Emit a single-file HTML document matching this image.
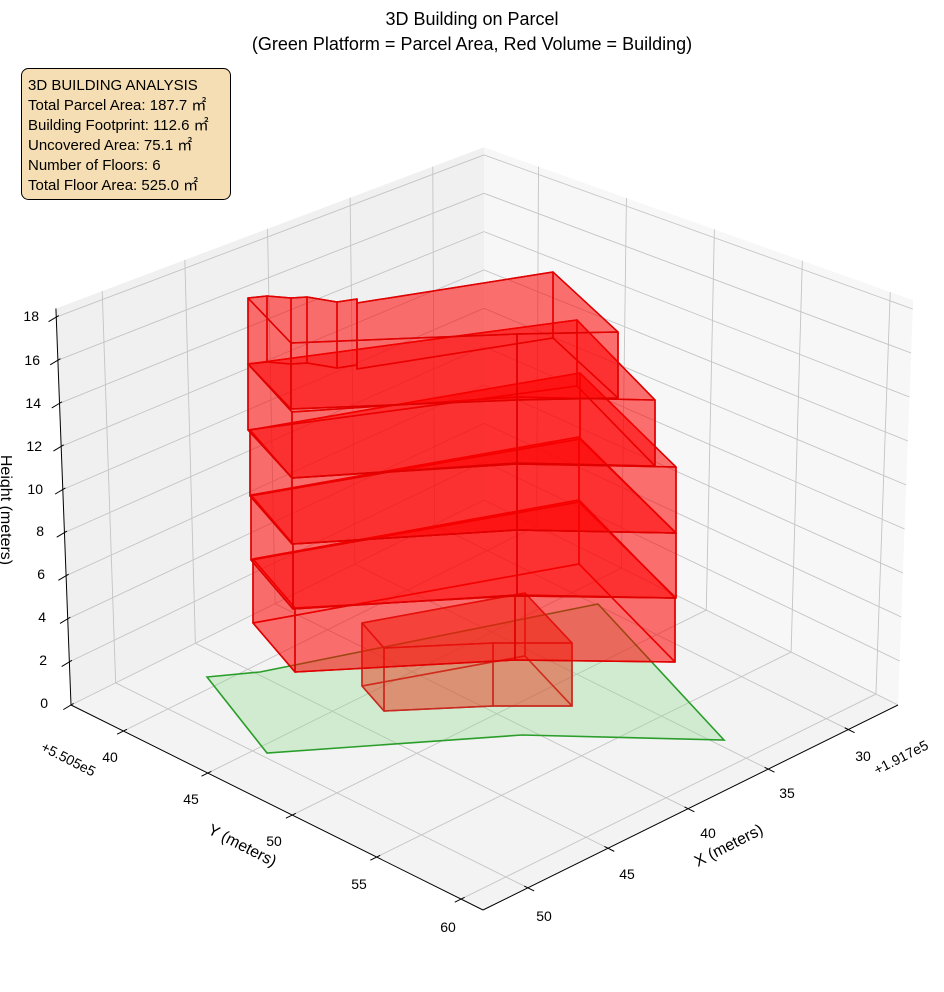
<!DOCTYPE html>
<html><head><meta charset="utf-8">
<style>
html,body{margin:0;padding:0;background:#fff;}
body{width:944px;height:992px;overflow:hidden;position:relative;font-family:"Liberation Sans","Noto Sans CJK JP",sans-serif;}
svg{position:absolute;left:0;top:0;}
svg text{font-family:"Liberation Sans","Noto Sans CJK JP",sans-serif;fill:#000;}
</style></head>
<body>
<svg id="s" width="944" height="992" viewBox="0 0 944 992" xmlns="http://www.w3.org/2000/svg">
<g id="panes"></g>
<g id="grid" stroke="#c4c4c4" stroke-width="0.9" fill="none"></g>
<g id="axes" stroke="#000" stroke-width="1" fill="none"></g>
<polygon points="207,677 260,672 598,604 724,740 522,735 267,753" fill="rgba(144,220,144,0.35)" stroke="#2a9d2a" stroke-width="1.6"/>
<g id="bld"></g>
<text x="472" y="25" font-size="18" text-anchor="middle">3D Building on Parcel</text>
<text x="472" y="50" font-size="18" text-anchor="middle">(Green Platform = Parcel Area, Red Volume = Building)</text>
<rect x="21.5" y="68.5" width="209" height="131" rx="7" fill="#f5deb3" stroke="#000" stroke-width="1"/>
<g font-size="15">
<text x="28" y="90">3D BUILDING ANALYSIS</text>
<text x="28" y="110">Total Parcel Area: 187.7 ㎡</text>
<text x="28" y="130">Building Footprint: 112.6 ㎡</text>
<text x="28" y="150">Uncovered Area: 75.1 ㎡</text>
<text x="28" y="170">Number of Floors: 6</text>
<text x="28" y="190">Total Floor Area: 525.0 ㎡</text>
</g>
<g font-size="14" text-anchor="end">
<text x="48" y="708">0</text>
<text x="47" y="665">2</text>
<text x="46" y="622">4</text>
<text x="45" y="579">6</text>
<text x="44" y="536">8</text>
<text x="43" y="494">10</text>
<text x="42" y="451">12</text>
<text x="41" y="408">14</text>
<text x="40" y="365">16</text>
<text x="39" y="321">18</text>
</g>
<g font-size="14" text-anchor="middle">
<text x="110" y="762">40</text>
<text x="191" y="804">45</text>
<text x="274" y="846">50</text>
<text x="359" y="889">55</text>
<text x="448" y="932">60</text>
</g>
<g font-size="14" text-anchor="middle">
<text x="544" y="921">50</text>
<text x="627" y="879">45</text>
<text x="708" y="838">40</text>
<text x="787" y="798">35</text>
<text x="863" y="761">30</text>
</g>
<text font-size="14" transform="translate(40,750) rotate(27)">+5.505e5</text>
<text font-size="14" transform="translate(877,775) rotate(-27)">+1.917e5</text>
<text font-size="16" text-anchor="middle" transform="translate(240,850) rotate(27)">Y (meters)</text>
<text font-size="16" text-anchor="middle" transform="translate(731,850) rotate(-27)">X (meters)</text>
<text font-size="16" text-anchor="middle" transform="translate(1,510) rotate(90)">Height (meters)</text>
</svg>
<script>
(function(){
var NS="http://www.w3.org/2000/svg";
var XMAX=52.8,XMIN=26.9,YMAX=61.3,YMIN=36.9,ZMAX=18.4;
var F=[483,910],R=[898,705],L=[71,705],B=[484,500];
function P(x,y,z){
 var u=(XMAX-x)/(XMAX-XMIN),v=(YMAX-y)/(YMAX-YMIN);
 var a=(1-u)*(1-v),b=u*(1-v),c=(1-u)*v,d=u*v;
 var px=F[0]*a+R[0]*b+L[0]*c+B[0]*d;
 var py=F[1]*a+R[1]*b+L[1]*c+B[1]*d;
 var s=24*a+22*b+21.55*c+19.17*d;
 var dx=0.82*b-0.82*c;
 return [px+dx*z,py-s*z];
}
function el(g,tag,attrs){var e=document.createElementNS(NS,tag);for(var k in attrs)e.setAttribute(k,attrs[k]);g.appendChild(e);return e;}
function pts(a){return a.map(function(p){return p[0].toFixed(1)+","+p[1].toFixed(1);}).join(" ");}
function line(g,p,q){el(g,"line",{x1:p[0],y1:p[1],x2:q[0],y2:q[1]});}
var panes=document.getElementById("panes");
el(panes,"polygon",{points:pts([P(XMAX,YMIN,0),P(XMIN,YMIN,0),P(XMIN,YMIN,ZMAX),P(XMAX,YMIN,ZMAX)]),fill:"#f0f0f0"});
el(panes,"polygon",{points:pts([P(XMIN,YMAX,0),P(XMIN,YMIN,0),P(XMIN,YMIN,ZMAX),P(XMIN,YMAX,ZMAX)]),fill:"#f7f7f7"});
el(panes,"polygon",{points:pts([P(XMAX,YMAX,0),P(XMIN,YMAX,0),P(XMIN,YMIN,0),P(XMAX,YMIN,0)]),fill:"#f3f3f3"});
var g=document.getElementById("grid");
for(var z=0;z<=18;z+=2){line(g,P(XMAX,YMIN,z),P(XMIN,YMIN,z));line(g,P(XMIN,YMIN,z),P(XMIN,YMAX,z));}
for(var x=30;x<=50;x+=5){line(g,P(x,YMAX,0),P(x,YMIN,0));line(g,P(x,YMIN,0),P(x,YMIN,ZMAX));}
for(var y=40;y<=60;y+=5){line(g,P(XMAX,y,0),P(XMIN,y,0));line(g,P(XMIN,y,0),P(XMIN,y,ZMAX));}
var ax=document.getElementById("axes");
line(ax,P(XMAX,YMIN,0),P(XMAX,YMAX,0));
line(ax,P(XMAX,YMAX,0),P(XMIN,YMAX,0));
line(ax,P(XMAX,YMIN,0),P(XMAX,YMIN,ZMAX));
for(var x=30;x<=50;x+=5){var p=P(x,YMAX,0);line(ax,[p[0]-0.896*4,p[1]-0.446*4],[p[0]+0.896*7,p[1]+0.446*7]);}
for(var y=40;y<=60;y+=5){var p=P(XMAX,y,0);line(ax,[p[0]+0.896*4,p[1]-0.443*4],[p[0]-0.896*7,p[1]+0.443*7]);}
for(var z=0;z<=18;z+=2){var p=P(XMAX,YMIN,z);line(ax,[p[0]+0.857*3,p[1]-0.514*3],[p[0]-0.857*9,p[1]+0.514*9]);}
var bld=document.getElementById("bld");
var FILL="rgba(255,0,0,0.33)",STR="#e00000";
function prism(T,h,fill,stroke){
 var Bt=T.map(function(p){return [p[0],p[1]+h];});
 var o={fill:fill,stroke:stroke,"stroke-width":1.5,"stroke-linejoin":"round"};
 el(bld,"polygon",Object.assign({points:pts(Bt)},o));
 for(var i=0;i<T.length;i++){var j=(i+1)%T.length;
  el(bld,"polygon",Object.assign({points:pts([T[i],T[j],Bt[j],Bt[i]])},o));}
 el(bld,"polygon",Object.assign({points:pts(T)},o));
}
prism([[362,623],[525,593],[572,643],[493,643],[384,648]],63,"rgba(230,60,30,0.3)","#c8281e");
prism([[253,559],[579,500],[675,598],[515,596],[295,608]],64,FILL,STR);
prism([[251,495],[579,437],[676,533],[517,530],[293,544]],65,FILL,STR);
prism([[250,430],[580,373],[676,467],[517,464],[292,478]],66,FILL,STR);
prism([[248,364],[577,320],[655,400],[517,397],[292,412]],66,FILL,STR);
prism([[248,298],[267,296],[291,298],[307,297],[337,302],[357,299],[357,303],[553,272],[618,332],[517,334],[291,343]],66,FILL,STR);
})();
</script>
</body></html>
